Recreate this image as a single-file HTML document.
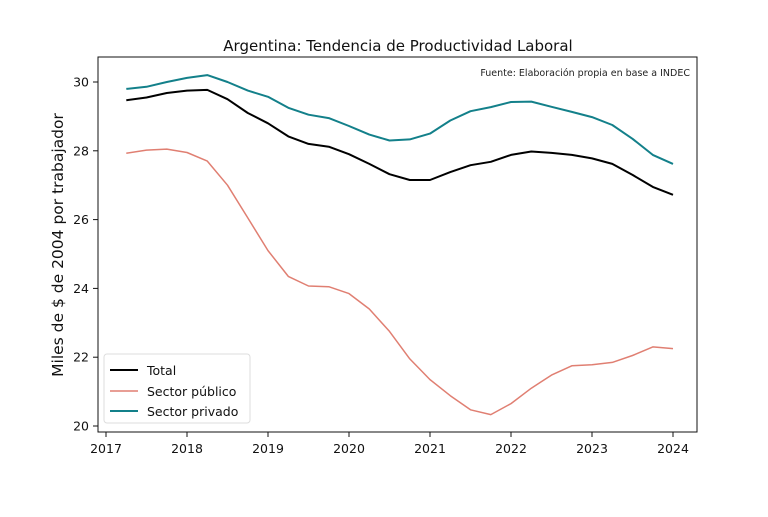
<!DOCTYPE html>
<html><head><meta charset="utf-8"><style>
body{margin:0;background:#fff;}
svg text{font-family:"DejaVu Sans","Liberation Sans",sans-serif;}
</style></head><body>
<svg id="chart" width="768" height="512" xmlns="http://www.w3.org/2000/svg">
<rect width="768" height="512" fill="#fff"/>
<text x="398" y="51" text-anchor="middle" font-size="15" fill="#111">Argentina: Tendencia de Productividad Laboral</text>
<text transform="translate(63,245) rotate(-90)" text-anchor="middle" font-size="15.5" fill="#111">Miles de $ de 2004 por trabajador</text>
<text x="690" y="76" text-anchor="end" font-size="9.5" fill="#222">Fuente: Elaboración propia en base a INDEC</text>
<g id="ticks"></g>
<g id="lines"></g>
<rect x="98" y="57" width="599" height="375" fill="none" stroke="#111" stroke-width="1"/>
<g>
<rect x="104" y="354" width="146" height="69" rx="3" fill="#fff" stroke="#ddd"/>
<line x1="110" y1="370" x2="138" y2="370" stroke="#000" stroke-width="2"/>
<text x="147" y="375" font-size="12.5" fill="#111">Total</text>
<line x1="110" y1="391" x2="138" y2="391" stroke="#e07f72" stroke-width="1.5"/>
<text x="147" y="396" font-size="12.5" fill="#111">Sector público</text>
<line x1="110" y1="411" x2="138" y2="411" stroke="#13808a" stroke-width="2"/>
<text x="147" y="416" font-size="12.5" fill="#111">Sector privado</text>
</g>
</svg>
<script>
const quarters = [2017.25,2017.5,2017.75,2018,2018.25,2018.5,2018.75,2019,2019.25,2019.5,2019.75,2020,2020.25,2020.5,2020.75,2021,2021.25,2021.5,2021.75,2022,2022.25,2022.5,2022.75,2023,2023.25,2023.5,2023.75,2024];
const total = [29.47,29.55,29.68,29.75,29.77,29.5,29.1,28.8,28.42,28.2,28.12,27.9,27.62,27.32,27.15,27.15,27.38,27.58,27.68,27.88,27.98,27.94,27.88,27.78,27.62,27.3,26.95,26.72];
const publico = [27.93,28.02,28.05,27.95,27.7,27.0,26.05,25.1,24.35,24.07,24.05,23.85,23.4,22.75,21.95,21.35,20.88,20.47,20.33,20.65,21.1,21.48,21.75,21.78,21.85,22.05,22.3,22.25];
const privado = [29.8,29.86,30.0,30.12,30.2,30.0,29.75,29.57,29.25,29.05,28.95,28.72,28.47,28.3,28.33,28.5,28.88,29.15,29.27,29.42,29.43,29.28,29.13,28.98,28.75,28.35,27.88,27.62];
const xTicks = [2017,2018,2019,2020,2021,2022,2023,2024];
const yTicks = [20,22,24,26,28,30];
const NS="http://www.w3.org/2000/svg";
function xs(v){return 106+(v-2017)*(673-106)/7;}
function ys(v){return 426-(v-20)*(426-82)/10;}
const tg=document.getElementById('ticks');
xTicks.forEach(t=>{
 const l=document.createElementNS(NS,'line');
 l.setAttribute('x1',xs(t));l.setAttribute('x2',xs(t));l.setAttribute('y1',432);l.setAttribute('y2',437);l.setAttribute('stroke','#111');
 
 
 tg.appendChild(l);
 const tx=document.createElementNS(NS,'text');
 tx.setAttribute('x',xs(t));tx.setAttribute('y',453);tx.setAttribute('text-anchor','middle');tx.setAttribute('font-size','12.5');tx.setAttribute('fill','#111');
 tx.textContent=t;
 
 
 tg.appendChild(tx);
});
yTicks.forEach(t=>{
 const l=document.createElementNS(NS,'line');
 l.setAttribute('x1',93);l.setAttribute('x2',98);l.setAttribute('y1',ys(t));l.setAttribute('y2',ys(t));l.setAttribute('stroke','#111');
 
 
 tg.appendChild(l);
 const tx=document.createElementNS(NS,'text');
 tx.setAttribute('x',89);tx.setAttribute('y',ys(t)+4.5);tx.setAttribute('text-anchor','end');tx.setAttribute('font-size','12.5');tx.setAttribute('fill','#111');
 tx.textContent=t;
 
 
 tg.appendChild(tx);
});
const lg=document.getElementById('lines');
function draw(vals,color,w,name){
 const p=document.createElementNS(NS,'polyline');
 p.setAttribute('points',vals.map((v,i)=>xs(quarters[i]).toFixed(1)+','+ys(v).toFixed(1)).join(' '));
 p.setAttribute('fill','none');p.setAttribute('stroke',color);p.setAttribute('stroke-width',w);p.setAttribute('stroke-linejoin','round');
 
 
 lg.appendChild(p);
}
draw(publico,'#e07f72',1.5,'line-sector-publico');
draw(privado,'#13808a',2,'line-sector-privado');
draw(total,'#000',2,'line-total');
</script>
</body></html>
